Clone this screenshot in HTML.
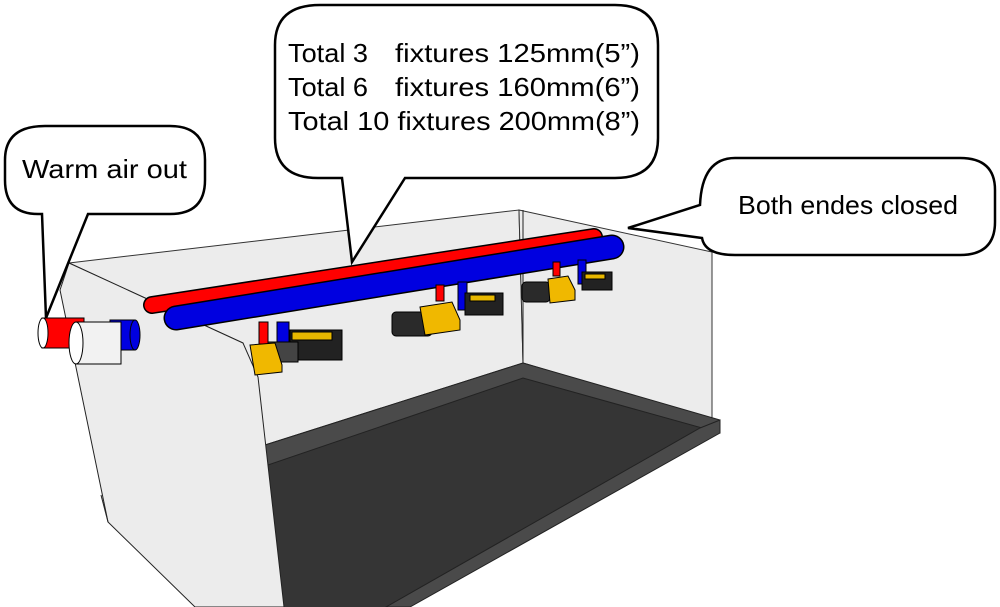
<!DOCTYPE html>
<html><head><meta charset="utf-8"><style>
html,body{margin:0;padding:0;background:#fff;}
svg{display:block;}
text{font-family:"Liberation Sans",sans-serif;font-size:26px;fill:#000;}
</style></head><body>
<svg width="1000" height="607" viewBox="0 0 1000 607" xmlns="http://www.w3.org/2000/svg">
<!-- back wall -->
<polygon points="69,263 519,210 523,363 265,445 243,343" fill="#ececec" stroke="#333" stroke-width="1"/>
<polygon points="519,210 712,252 712,420 523,363" fill="#ececec" stroke="#333" stroke-width="1"/>
<!-- floor -->
<polygon points="523,363 720,420 720,433 400,607 284,607 265,445" fill="#353535"/>
<polygon points="523,363 720,420 720,433 523,378 268,465 265,445" fill="#4a4a4a" stroke="#222" stroke-width="1"/>
<polygon points="700,428 720,420 720,433 410,607 386,607" fill="#4a4a4a" stroke="#222" stroke-width="1"/>
<line x1="523" y1="210" x2="523" y2="363" stroke="#222" stroke-width="1"/>
<!-- left panel -->
<polygon points="69,263 243,343 258,377 284,607 195,607 108,522 60,290" fill="#ececec" stroke="#222" stroke-width="1"/>
<line x1="101" y1="495" x2="108" y2="522" stroke="#222"/>
<!-- pipes -->
<line x1="152" y1="305" x2="594" y2="237" stroke="#000" stroke-width="18" stroke-linecap="round"/>
<line x1="152" y1="305" x2="594" y2="237" stroke="#f00" stroke-width="15" stroke-linecap="round"/>
<line x1="176" y1="318" x2="612" y2="247" stroke="#000" stroke-width="25" stroke-linecap="round"/>
<line x1="176" y1="318" x2="612" y2="247" stroke="#0000e0" stroke-width="22" stroke-linecap="round"/>
<!-- drops -->
<g stroke="#000" stroke-width="1">
<rect x="259" y="322" width="9" height="22" fill="#f00"/>
<rect x="277" y="322" width="12" height="30" fill="#0000e0"/>
<rect x="436" y="285" width="8" height="16" fill="#f00"/>
<rect x="458" y="282" width="9" height="28" fill="#0000e0"/>
<rect x="553" y="262" width="7" height="14" fill="#f00"/>
<rect x="578" y="260" width="8" height="24" fill="#0000e0"/>
</g>
<!-- fixtures -->
<g stroke="#000" stroke-width="1">
<rect x="290" y="330" width="52" height="30" fill="#222"/>
<rect x="292" y="332" width="40" height="8" fill="#e8b800"/>
<rect x="268" y="342" width="30" height="20" fill="#444"/>
<polygon points="250,345 275,343 282,365 282,372 255,375" fill="#f0b800"/>
<rect x="392" y="312" width="40" height="24" fill="#2a2a2a" rx="4"/>
<polygon points="420,307 452,302 460,320 460,330 425,335" fill="#f0b800"/>
<rect x="465" y="293" width="38" height="22" fill="#222"/>
<rect x="470" y="295" width="25" height="6" fill="#e8b800"/>
<rect x="522" y="282" width="28" height="20" fill="#2a2a2a" rx="4"/>
<polygon points="548,279 568,276 575,290 575,300 550,303" fill="#f0b800"/>
<rect x="582" y="272" width="30" height="18" fill="#222"/>
<rect x="585" y="274" width="20" height="5" fill="#e8b800"/>
</g>
<!-- stubs -->
<rect x="42" y="318" width="42" height="30" fill="#f00" stroke="#000"/>
<ellipse cx="43" cy="333" rx="5" ry="15" fill="#fff" stroke="#000"/>
<rect x="110" y="320" width="25" height="30" fill="#0000e0" stroke="#000"/>
<ellipse cx="135" cy="335" rx="5" ry="15" fill="#0000e0" stroke="#000"/>
<rect x="76" y="322" width="45" height="42" fill="#f2f2f2" stroke="#000"/>
<ellipse cx="76" cy="343" rx="7" ry="21" fill="#fff" stroke="#000"/>
<!-- callouts -->
<g fill="#fff" stroke="#000" stroke-width="2.5">
<path d="M45,126 H170 Q205,126 205,160 V180 Q205,214 170,214 H88 L46,318 L42,214 H38 Q5,214 5,180 V160 Q5,126 45,126 Z"/>
<path d="M320,5 H615 Q658,5 658,45 V138 Q658,178 615,178 H405 L352,262 L342,178 H318 Q275,178 275,138 V45 Q275,5 320,5 Z"/>
<path d="M735,158 H960 Q995,158 995,190 V222 Q995,255 960,255 H735 Q705,255 702,238 L628,228 L700,205 Q702,158 735,158 Z"/>
</g>
<text x="22" y="178" textLength="165" lengthAdjust="spacingAndGlyphs">Warm air out</text>
<text x="288" y="62" textLength="80" lengthAdjust="spacingAndGlyphs">Total 3</text>
<text x="395" y="62" textLength="245" lengthAdjust="spacingAndGlyphs">fixtures 125mm(5”)</text>
<text x="288" y="96" textLength="80" lengthAdjust="spacingAndGlyphs">Total 6</text>
<text x="395" y="96" textLength="245" lengthAdjust="spacingAndGlyphs">fixtures 160mm(6”)</text>
<text x="288" y="130" textLength="352" lengthAdjust="spacingAndGlyphs">Total 10 fixtures 200mm(8”)</text>
<text x="738" y="214" textLength="220" lengthAdjust="spacingAndGlyphs">Both endes closed</text>
</svg>
</body></html>
